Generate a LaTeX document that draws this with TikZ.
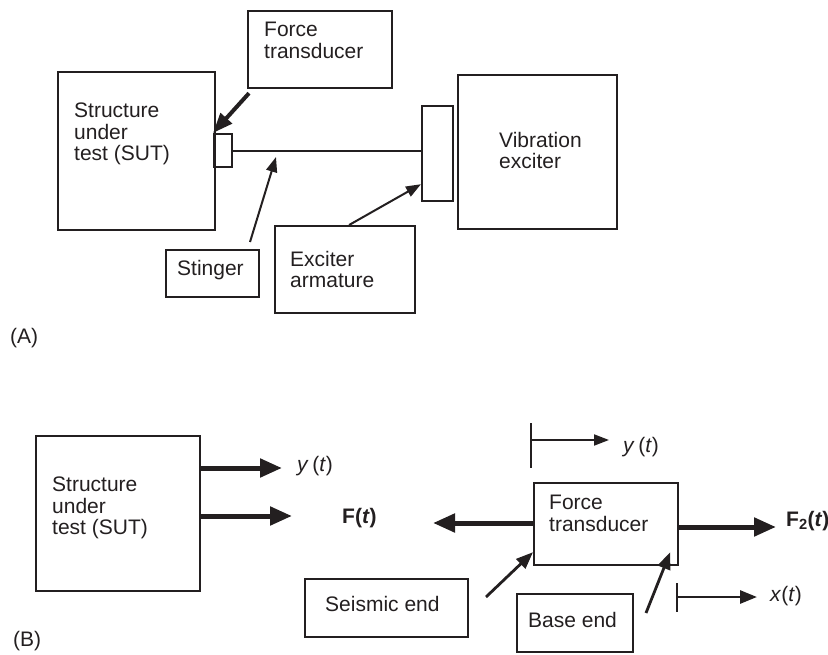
\documentclass[tikz,border=0pt]{standalone}
\usepackage{fontspec}
\setmainfont{Liberation Sans}
\usetikzlibrary{arrows.meta}
\definecolor{inkblack}{RGB}{35,31,32}

\begin{document}
\begin{tikzpicture}[x=1pt, y=-1pt, inkblack,
    box/.style={draw, line width=2.2pt, rectangle, inner sep=0pt, anchor=north west},
    txt/.style={inner sep=0pt, align=left, font=\fontsize{21}{21.5}\selectfont},
    bigarrow/.style={line width=5pt, -{Triangle[length=22pt,width=18pt]}},
    midarrow/.style={line width=2.8pt, -{Triangle[length=17pt,width=13pt]}},
    thinarrow/.style={line width=2pt, -{Triangle[length=15pt,width=11pt]}}]
    \useasboundingbox (0,0) rectangle (828,655);

    % (A) test set-up
    \node[box, minimum width=157pt, minimum height=158pt] (sutA) at (57,71) {};
    \node[txt, anchor=north west] at (74,103) {Structure\\under\\test (SUT)};
    \node[box, minimum width=18pt, minimum height=33pt] (ftA) at (213,133) {};
    \node[box, minimum width=31pt, minimum height=95pt] (arm) at (421,105) {};
    \node[box, minimum width=159pt, minimum height=154pt] (shaker) at (457,74) {};
    \node[txt, anchor=north west] at (499,132) {Vibration\\exciter};
    \node[box, minimum width=144pt, minimum height=77pt] (ftLabel) at (247,10) {};
    \node[txt, anchor=north west] at (264,22) {Force\\transducer};
    \node[box, minimum width=93pt, minimum height=47pt] (stinger) at (165,249) {};
    \node[txt, anchor=base west] at (177,276) {Stinger};
    \node[box, minimum width=140pt, minimum height=87pt] (armLabel) at (274,225) {};
    \node[txt, anchor=north west] at (290,251) {Exciter\\armature};
    \node[txt, anchor=base west] (tagA) at (10,343) {(A)};

    % stinger rod and pointers
    \draw[line width=2pt] (ftA.east) -- (ftA.east -| arm.west);
    \coordinate (stingTip) at (276,157);
    \coordinate (stingFrom) at (250,242);
    \draw[line width=4pt, -{Triangle[length=20pt,width=15pt]}]
        ([shift={(2,4)}]ftLabel.south west) -- (ftA.north west);
    \draw[thinarrow] (stingFrom) -- (stingTip);
    \draw[thinarrow] ([xshift=4pt]armLabel.north) -- ([shift={(0,-18)}]arm.south west);

    % (B) free bodies
    \node[box, minimum width=164pt, minimum height=155pt] (sutB) at (35,435) {};
    \node[txt, anchor=north west] at (52,477) {Structure\\under\\test (SUT)};
    \node[box, minimum width=144pt, minimum height=82pt] (ftB) at (533,482) {};
    \node[txt, anchor=north west] at (549,495) {Force\\transducer};
    \node[box, minimum width=163pt, minimum height=58pt] (seismic) at (304,578) {};
    \node[txt, anchor=base west] at (325,611) {Seismic end};
    \node[box, minimum width=116pt, minimum height=58pt] (baseEnd) at (516,593) {};
    \node[txt, anchor=base west] at (528,627) {Base end};
    \node[txt, anchor=base west] (tagB) at (13,646) {(B)};

    % motions and forces
    \coordinate (yTipA) at (282,468);
    \coordinate (fTip) at (292,516);
    \coordinate (fBack) at (433,523);
    \coordinate (f2Tip) at (776,527);
    \draw[bigarrow] (sutB.east |- yTipA) -- (yTipA);
    \draw[bigarrow] (sutB.east |- fTip) -- (fTip);
    \draw[bigarrow] (ftB.west |- fBack) -- (fBack);
    \draw[bigarrow] (ftB.east |- f2Tip) -- (f2Tip);
    \node[txt, anchor=base west] (yLabA) at (297,471) {\textit{y}\,(\textit{t})};
    \node[txt, anchor=base west] (fLab) at (342,523) {\textbf{F(\textit{t})}};
    \node[txt, anchor=base west] (f2Lab) at (786,526) {\textbf{F\textsubscript{2}(\textit{t})}};

    % seismic end y(t) and base end x(t)
    \coordinate (yTickTop) at (531,423);
    \coordinate (yTickBot) at (531,468);
    \coordinate (yTip) at (609,440);
    \draw[line width=1.8pt] (yTickTop) -- (yTickBot);
    \draw[thinarrow] (yTickTop |- yTip) -- (yTip);
    \node[txt, anchor=base west] (yLabB) at (623,452) {\textit{y}\,(\textit{t})};
    \coordinate (xTickTop) at (677,583);
    \coordinate (xTickBot) at (677,612);
    \coordinate (xTip) at (757,597);
    \draw[line width=2.2pt] (xTickTop) -- (xTickBot);
    \draw[midarrow] (xTickTop |- xTip) -- (xTip);
    \node[txt, anchor=base west] (xLab) at (770,601) {\textit{x}(\textit{t})};

    % ends pointing at the transducer
    \coordinate (seisFrom) at (486,597);
    \coordinate (baseFrom) at (646,613);
    \draw[midarrow] (seisFrom) -- ([yshift=14pt]ftB.south west);
    \draw[midarrow] (baseFrom) -- ([shift={(-9,-14)}]ftB.south east);
\end{tikzpicture}
\end{document}
